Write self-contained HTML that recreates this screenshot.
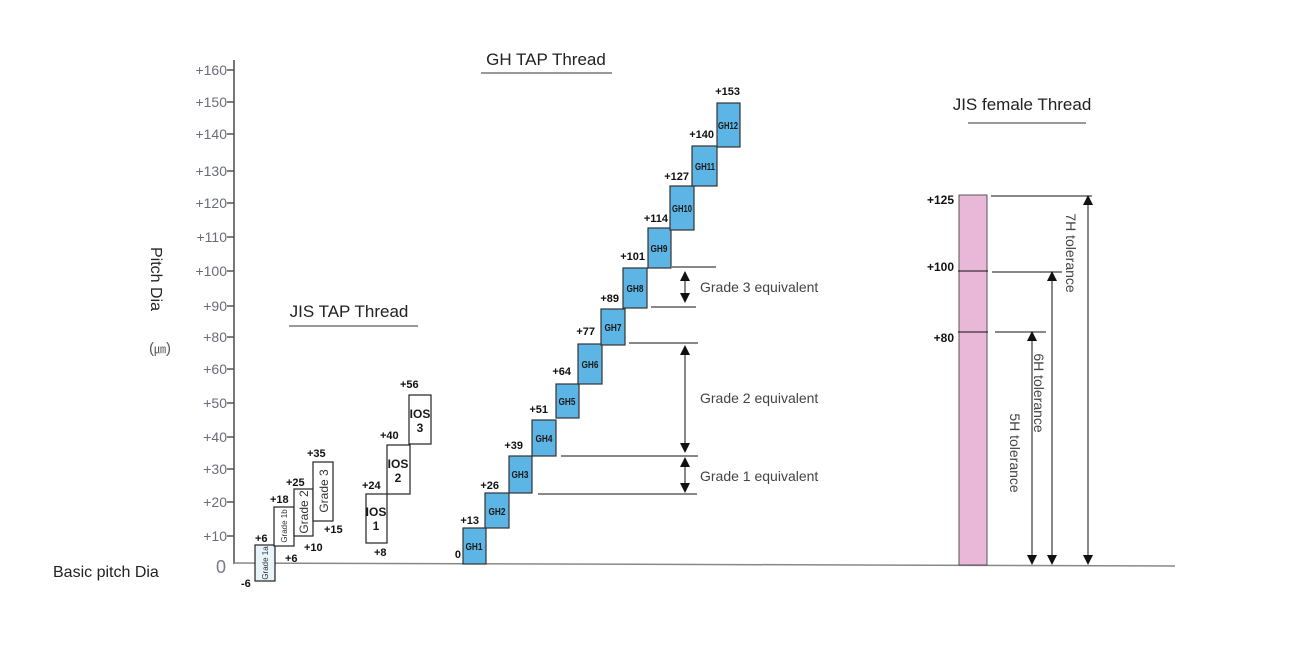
<!DOCTYPE html>
<html><head><meta charset="utf-8"><style>
html,body{margin:0;padding:0;background:#fff;}
svg{display:block;font-family:"Liberation Sans",sans-serif;}
.t{font-size:14px;fill:#6a6a7a;}
.b{font-size:11px;font-weight:bold;fill:#111;}
.g{font-size:10px;font-weight:bold;fill:#1a1a1a;font-family:"Liberation Sans Narrow","Liberation Sans",sans-serif;}
.e{font-size:14px;fill:#444;}
.ti{font-size:17px;fill:#222;}
</style></head><body>
<svg width="1303" height="646" viewBox="0 0 1303 646" xmlns="http://www.w3.org/2000/svg">
<defs>
<marker id="ah" markerWidth="10" markerHeight="10" refX="5" refY="5" orient="auto-start-reverse" markerUnits="userSpaceOnUse"><path d="M0,0 L10,5 L0,10 z" fill="#111"/></marker>
</defs>
<line x1="234" y1="60" x2="234" y2="564" stroke="#777" stroke-width="2"/>
<line x1="233" y1="563" x2="1175" y2="566" stroke="#888" stroke-width="1.5"/>
<g stroke="#555" stroke-width="1.5">
<line x1="227" y1="70" x2="234" y2="70"/><line x1="227" y1="102" x2="234" y2="102"/>
<line x1="227" y1="134" x2="234" y2="134"/><line x1="227" y1="171" x2="234" y2="171"/>
<line x1="227" y1="203" x2="234" y2="203"/><line x1="227" y1="237" x2="234" y2="237"/>
<line x1="227" y1="271" x2="234" y2="271"/><line x1="227" y1="306" x2="234" y2="306"/>
<line x1="227" y1="337" x2="234" y2="337"/><line x1="227" y1="369" x2="234" y2="369"/>
<line x1="227" y1="403" x2="234" y2="403"/><line x1="227" y1="437" x2="234" y2="437"/>
<line x1="227" y1="469" x2="234" y2="469"/><line x1="227" y1="502" x2="234" y2="502"/>
<line x1="227" y1="536" x2="234" y2="536"/>
</g>
<g class="t" text-anchor="end">
<text x="227" y="75">+160</text><text x="227" y="107">+150</text><text x="227" y="139">+140</text>
<text x="227" y="176">+130</text><text x="227" y="208">+120</text><text x="227" y="242">+110</text>
<text x="227" y="276">+100</text><text x="227" y="311">+90</text><text x="227" y="342">+80</text>
<text x="227" y="374">+60</text><text x="227" y="408">+50</text><text x="227" y="442">+40</text>
<text x="227" y="474">+30</text><text x="227" y="507">+20</text><text x="227" y="541">+10</text>
</g>
<text x="216" y="573" style="font-size:18px;fill:#7a7a8a">0</text>
<text x="53" y="577" style="font-size:16px;fill:#222">Basic pitch Dia</text>
<text transform="translate(151,279) rotate(90)" text-anchor="middle" style="font-size:16px;fill:#222">Pitch Dia</text>
<text x="160" y="353" text-anchor="middle" style="font-size:15px;fill:#555">(<tspan style="font-size:12px">㎛</tspan>)</text>

<text x="546" y="65" text-anchor="middle" class="ti">GH TAP Thread</text>
<line x1="481" y1="73" x2="612" y2="73" stroke="#333"/>
<text x="349" y="317" text-anchor="middle" class="ti">JIS TAP Thread</text>
<line x1="289" y1="326" x2="418" y2="326" stroke="#333"/>
<text x="1022" y="110" text-anchor="middle" class="ti">JIS female Thread</text>
<line x1="968" y1="123" x2="1086" y2="123" stroke="#333"/>

<g stroke="#222" stroke-width="1.2">
<rect x="255" y="545" width="20" height="36" fill="#e8f4fb"/>
<rect x="274" y="507" width="20" height="39" fill="#fff"/>
<rect x="294" y="489" width="19" height="47" fill="#fff"/>
<rect x="313" y="462" width="20" height="59" fill="#fff"/>
<rect x="366" y="494" width="21" height="49" fill="#fff"/>
<rect x="387" y="445" width="23" height="49" fill="#fff"/>
<rect x="409" y="395" width="22" height="49" fill="#fff"/>
</g>
<g fill="#333" text-anchor="middle">
<text transform="translate(268,563) rotate(-90)" style="font-size:8px">Grade 1a</text>
<text transform="translate(287,526) rotate(-90)" style="font-size:8px">Grade 1b</text>
<text transform="translate(308,512) rotate(-90)" style="font-size:12px">Grade 2</text>
<text transform="translate(328,491) rotate(-90)" style="font-size:12px">Grade 3</text>
</g>
<g class="g" style="font-size:12px" text-anchor="middle">
<text x="376" y="516">IOS</text><text x="376" y="530">1</text>
<text x="398" y="468">IOS</text><text x="398" y="482">2</text>
<text x="420" y="418">IOS</text><text x="420" y="432">3</text>
</g>
<g class="b">
<text x="255" y="542">+6</text><text x="241" y="587">-6</text>
<text x="270" y="503">+18</text><text x="285" y="562">+6</text>
<text x="286" y="486">+25</text><text x="304" y="551">+10</text>
<text x="307" y="457">+35</text><text x="324" y="533">+15</text>
<text x="362" y="489">+24</text><text x="374" y="556">+8</text>
<text x="380" y="439">+40</text><text x="400" y="388">+56</text>
</g>

<g fill="#5db5e5" stroke="#333" stroke-width="1.2">
<rect x="463" y="528" width="23" height="36"/>
<rect x="485" y="493" width="24" height="35"/>
<rect x="509" y="456" width="23" height="37"/>
<rect x="532" y="420" width="24" height="36"/>
<rect x="556" y="384" width="23" height="34"/>
<rect x="578" y="344" width="24" height="40"/>
<rect x="601" y="309" width="24" height="36"/>
<rect x="623" y="268" width="24" height="40"/>
<rect x="648" y="228" width="23" height="40"/>
<rect x="670" y="186" width="24" height="44"/>
<rect x="692" y="146" width="25" height="40"/>
<rect x="717" y="103" width="23" height="44"/>
</g>
<g class="g" text-anchor="middle">
<text x="474" y="550" textLength="17" lengthAdjust="spacingAndGlyphs">GH1</text>
<text x="497" y="515" textLength="17" lengthAdjust="spacingAndGlyphs">GH2</text>
<text x="520" y="478" textLength="17" lengthAdjust="spacingAndGlyphs">GH3</text>
<text x="544" y="442" textLength="17" lengthAdjust="spacingAndGlyphs">GH4</text>
<text x="567" y="405" textLength="17" lengthAdjust="spacingAndGlyphs">GH5</text>
<text x="590" y="368" textLength="17" lengthAdjust="spacingAndGlyphs">GH6</text>
<text x="613" y="331" textLength="17" lengthAdjust="spacingAndGlyphs">GH7</text>
<text x="635" y="292" textLength="17" lengthAdjust="spacingAndGlyphs">GH8</text>
<text x="659" y="252" textLength="17" lengthAdjust="spacingAndGlyphs">GH9</text>
<text x="682" y="212" textLength="20" lengthAdjust="spacingAndGlyphs">GH10</text>
<text x="705" y="170" textLength="20" lengthAdjust="spacingAndGlyphs">GH11</text>
<text x="728" y="129" textLength="20" lengthAdjust="spacingAndGlyphs">GH12</text>
</g>
<g class="b" text-anchor="end">
<text x="461" y="558">0</text><text x="479" y="524">+13</text><text x="499" y="489">+26</text>
<text x="523" y="449">+39</text><text x="548" y="413">+51</text><text x="571" y="375">+64</text>
<text x="595" y="335">+77</text><text x="619" y="302">+89</text><text x="645" y="260">+101</text>
<text x="668" y="222">+114</text><text x="689" y="180">+127</text><text x="714" y="138">+140</text>
<text x="740" y="95">+153</text>
</g>
<g stroke="#111" stroke-width="1">
<line x1="672" y1="267" x2="716" y2="267"/>
<line x1="651" y1="307" x2="696" y2="307"/>
<line x1="629" y1="343" x2="698" y2="343"/>
<line x1="561" y1="456" x2="698" y2="456"/>
<line x1="538" y1="494" x2="697" y2="494"/>
<line x1="685" y1="276" x2="685" y2="298" marker-start="url(#ah)" marker-end="url(#ah)"/>
<line x1="685" y1="350" x2="685" y2="448" marker-start="url(#ah)" marker-end="url(#ah)"/>
<line x1="685" y1="462" x2="685" y2="488" marker-start="url(#ah)" marker-end="url(#ah)"/>
</g>
<g class="e">
<text x="700" y="292">Grade 3 equivalent</text>
<text x="700" y="403">Grade 2 equivalent</text>
<text x="700" y="481">Grade 1 equivalent</text>
</g>

<rect x="959" y="195" width="28" height="370" fill="#e9b8d8" stroke="#555" stroke-width="1"/>
<g stroke="#111" stroke-width="1">
<line x1="991" y1="196" x2="1092" y2="196"/>
<line x1="958" y1="271" x2="988" y2="271"/>
<line x1="992" y1="272" x2="1062" y2="272"/>
<line x1="958" y1="332" x2="988" y2="332"/>
<line x1="995" y1="332" x2="1046" y2="332"/>
<line x1="1088" y1="200" x2="1088" y2="560" marker-start="url(#ah)" marker-end="url(#ah)"/>
<line x1="1052" y1="276" x2="1052" y2="560" marker-start="url(#ah)" marker-end="url(#ah)"/>
<line x1="1032" y1="336" x2="1032" y2="560" marker-start="url(#ah)" marker-end="url(#ah)"/>
</g>
<g class="b" style="font-size:12px" text-anchor="end">
<text x="954" y="204">+125</text><text x="954" y="271">+100</text><text x="954" y="342">+80</text>
</g>
<g class="e" text-anchor="middle">
<text transform="translate(1066,253) rotate(90)">7H tolerance</text>
<text transform="translate(1034,393) rotate(90)">6H tolerance</text>
<text transform="translate(1010,453) rotate(90)">5H tolerance</text>
</g>
</svg>
</body></html>
